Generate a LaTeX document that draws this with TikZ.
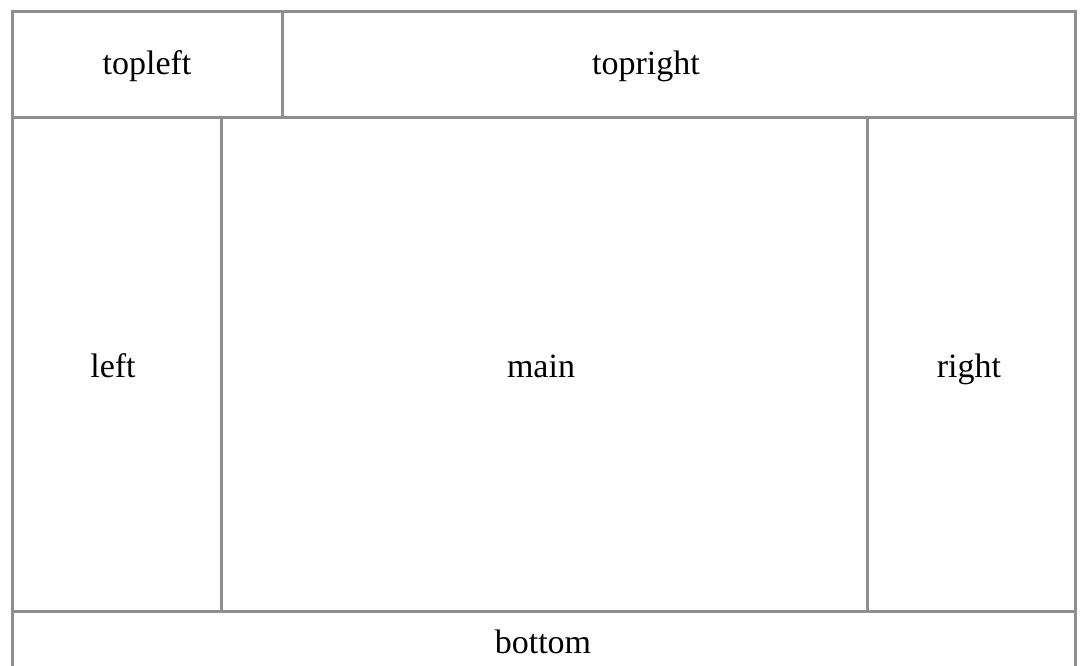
\documentclass[tikz,border=0pt]{standalone}
\usepackage{fontspec}
\setmainfont{Liberation Serif}
\definecolor{rule}{HTML}{8E8E8E}
\begin{document}
\begin{tikzpicture}[x=1pt,y=-1pt,
  rl/.style={draw=rule,line width=3pt},
  lbl/.style={font=\fontsize{34}{40}\selectfont,inner sep=0pt,anchor=base}]
\useasboundingbox (0,0) rectangle (1081,666);
\clip (0,0) rectangle (1081,666);
% outer frame
\draw[rl] (12,700) -- (12,12) -- (1075,12) -- (1075,700);
% horizontal rules
\draw[rl] (12,118) -- (1075,118);
\draw[rl] (12,611) -- (1075,611);
% vertical rules
\draw[rl] (282,12) -- (282,118);
\draw[rl] (221,118) -- (221,611);
\draw[rl] (867,118) -- (867,611);
% labels
\node[lbl] (topleft) at (147,75) {topleft};
\node[lbl] (topright) at (646,75) {topright};
\node[lbl] (left) at (113,377) {left};
\node[lbl] (main) at (541,377) {main};
\node[lbl] (right) at (969,377) {right};
\node[lbl] (bottom) at (543,653) {bottom};
\end{tikzpicture}
\end{document}
